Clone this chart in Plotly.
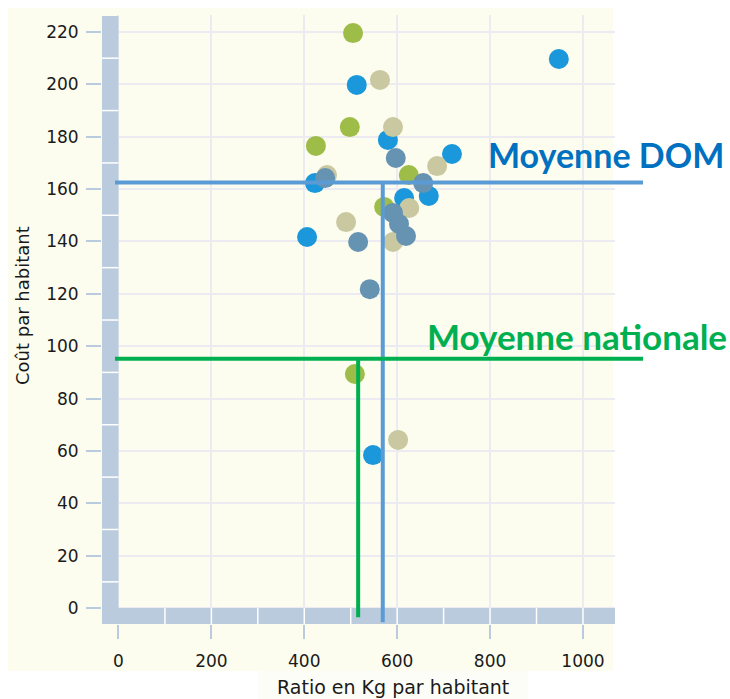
import plotly.graph_objects as go

# ---------------- data ----------------
green_x = [505, 498, 425, 625, 572, 509]
green_y = [219.6, 183.7, 176.5, 165.4, 153.2, 89.4]

blue_x = [513, 580, 718, 423, 668, 615, 406, 548, 948]
blue_y = [199.8, 178.8, 173.4, 162.3, 157.4, 156.6, 141.7, 58.4, 209.7]

beige_x = [563, 591, 686, 449, 626, 490, 591, 602]
beige_y = [201.7, 183.7, 168.8, 165.4, 152.8, 147.4, 139.8, 64.2]

steel_x = [597, 656, 445, 591, 604, 619, 516, 541]
steel_y = [171.9, 162.3, 164.2, 150.9, 146.7, 142.1, 139.8, 121.8]

dom_mean_x, dom_mean_y = 569, 162.5
nat_mean_x, nat_mean_y = 516, 95.2

x_ticks = [0, 200, 400, 600, 800, 1000]
y_ticks = [0, 20, 40, 60, 80, 100, 120, 140, 160, 180, 200, 220]

x_title = "Ratio en Kg par habitant"
y_title = "Coût par habitant"
dom_label = "Moyenne DOM"
nat_label = "Moyenne nationale"

# ---------------- style ----------------
W, H = 730, 699
ML, MR, MT, MB = 102, 115, 15, 75
XR = [-35.5, 1069]
YR = [-6.1, 226.5]
BAR = "#b9cbdc"
BG = "#fcfdef"
C_GREEN = "#9ebc48"
C_BLUE = "#1b97db"
C_BEIGE = "#c9c8a0"
C_STEEL = "#6793b3"
LINE_BLUE = "#5b9bd5"
LINE_GREEN = "#00b050"

fig = go.Figure()
for xs, ys, c in [(green_x, green_y, C_GREEN), (blue_x, blue_y, C_BLUE),
                  (beige_x, beige_y, C_BEIGE), (steel_x, steel_y, C_STEEL)]:
    fig.add_trace(go.Scatter(x=xs, y=ys, mode="markers",
                             marker=dict(size=20, color=c, line=dict(width=0)),
                             showlegend=False, hoverinfo="x+y"))

pw = W - ML - MR
ph = H - MT - MB
def px_x(p):  # pixel -> paper fraction
    return (p - ML) / pw
def px_y(p):
    return (H - MB - p) / ph

shapes = []
# background panel
shapes.append(dict(type="rect", xref="paper", yref="paper", layer="below",
                   x0=px_x(8), x1=px_x(613), y0=px_y(671), y1=px_y(8),
                   fillcolor=BG, line=dict(width=0)))
shapes.append(dict(type="rect", xref="paper", yref="paper", layer="below",
                   x0=px_x(258), x1=px_x(528), y0=px_y(699), y1=px_y(671),
                   fillcolor="#fdfdf7", line=dict(width=0)))
# axis bars
shapes.append(dict(type="rect", xref="x", yref="y", layer="above",
                   x0=XR[0], x1=0, y0=YR[0], y1=YR[1] - 0.4,
                   fillcolor=BAR, line=dict(width=0)))
shapes.append(dict(type="rect", xref="x", yref="y", layer="above",
                   x0=XR[0], x1=XR[1], y0=YR[0], y1=0,
                   fillcolor=BAR, line=dict(width=0)))
# separators
for v in range(10, 230, 20):
    shapes.append(dict(type="line", xref="x", yref="y", layer="above",
                       x0=XR[0], x1=0, y0=v, y1=v,
                       line=dict(color="white", width=1.5)))
for v in range(100, 1100, 100):
    shapes.append(dict(type="line", xref="x", yref="y", layer="above",
                       x0=v, x1=v, y0=YR[0], y1=0,
                       line=dict(color="white", width=1.5)))
# mean lines
shapes.append(dict(type="line", xref="paper", yref="y", layer="above",
                   x0=px_x(115), x1=px_x(643), y0=dom_mean_y, y1=dom_mean_y,
                   line=dict(color=LINE_BLUE, width=4)))
shapes.append(dict(type="line", xref="x", yref="y", layer="above",
                   x0=dom_mean_x, x1=dom_mean_x, y0=dom_mean_y, y1=-5.4,
                   line=dict(color=LINE_BLUE, width=4)))
shapes.append(dict(type="line", xref="paper", yref="y", layer="above",
                   x0=px_x(115), x1=px_x(643), y0=nat_mean_y, y1=nat_mean_y,
                   line=dict(color=LINE_GREEN, width=4)))
shapes.append(dict(type="line", xref="x", yref="y", layer="above",
                   x0=nat_mean_x, x1=nat_mean_x, y0=nat_mean_y, y1=-3.5,
                   line=dict(color=LINE_GREEN, width=4)))

annotations = [
    dict(text=x_title, xref="paper", yref="paper", x=px_x(393), y=px_y(687),
         showarrow=False, xanchor="center", yanchor="middle",
         font=dict(family="DejaVu Sans", size=19, color="#1a1a1a")),
    dict(text=y_title, xref="paper", yref="paper", x=px_x(22), y=px_y(306),
         showarrow=False, xanchor="center", yanchor="middle", textangle=-90,
         font=dict(family="DejaVu Sans", size=18, color="#1a1a1a")),
    dict(text="<b>" + dom_label + "</b>", xref="paper", yref="paper",
         x=px_x(486), y=px_y(154), showarrow=False, xanchor="left", yanchor="middle",
         font=dict(family="Lato", size=34, color="#0070c0")),
    dict(text="<b>" + nat_label + "</b>", xref="paper", yref="paper",
         x=px_x(425), y=px_y(336), showarrow=False, xanchor="left", yanchor="middle",
         font=dict(family="Lato", size=35, color="#00b050")),
]

fig.update_layout(
    width=W, height=H,
    margin=dict(l=ML, r=MR, t=MT, b=MB),
    paper_bgcolor="white", plot_bgcolor="rgba(0,0,0,0)",
    shapes=shapes, annotations=annotations,
    font=dict(family="DejaVu Sans", size=17, color="#1a1a1a"),
    xaxis=dict(range=XR, tickvals=x_ticks, ticktext=[str(v) for v in x_ticks],
               showgrid=True, gridcolor="#ebebf1", gridwidth=1.5,
               zeroline=False, showline=False,
               ticks="outside", ticklen=14, tickcolor=BAR, tickwidth=1.5,
               ticklabelstandoff=8,
               tickfont=dict(family="DejaVu Sans", size=17, color="#1a1a1a")),
    yaxis=dict(range=YR, tickvals=y_ticks, ticktext=[str(v) for v in y_ticks],
               showgrid=True, gridcolor="#ebebf1", gridwidth=1.5,
               zeroline=False, showline=False,
               ticks="outside", ticklen=15, tickcolor=BAR, tickwidth=1.5,
               ticklabelstandoff=4,
               tickfont=dict(family="DejaVu Sans", size=17, color="#1a1a1a")),
)

fig.write_html("out.html",
               config={"displayModeBar": False},
               post_script="document.body.style.margin='0';"
                           "document.documentElement.style.overflow='hidden';")
